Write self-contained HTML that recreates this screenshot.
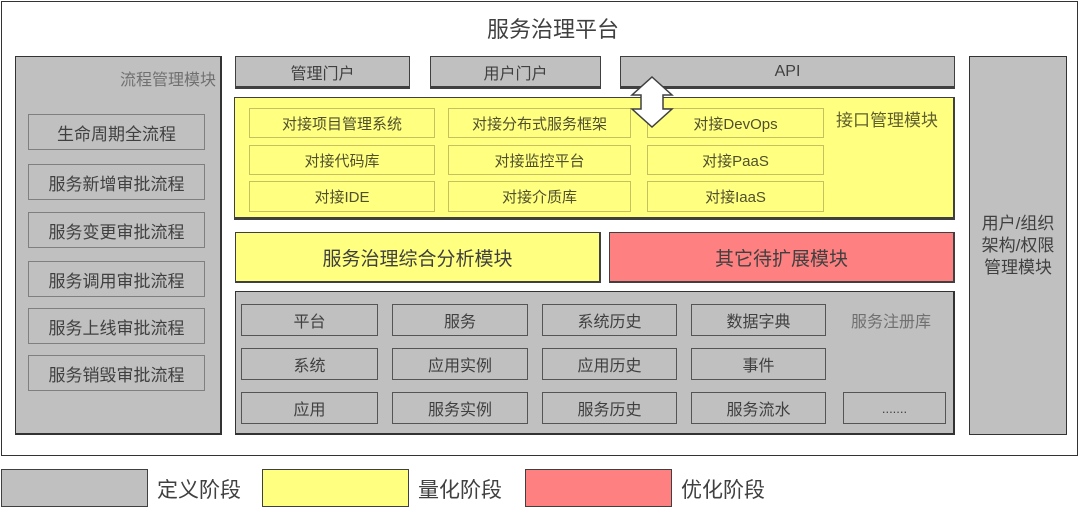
<!DOCTYPE html>
<html><head><meta charset="utf-8"><style>
body{margin:0;width:1080px;height:516px;background:#fff;position:relative;overflow:hidden;font-family:"Liberation Sans","Noto Sans CJK SC",sans-serif;color:#404040}
div{position:absolute;box-sizing:border-box}
.b{display:flex;align-items:center;justify-content:center;white-space:nowrap}
.g{background:#c0c0c0;border:1.5px solid #404040}
.gi{background:#c0c0c0;border:1.5px solid #7f7f7f;font-size:17px}
.y{background:#ffff80;border:2px solid #404040}
.yi{background:#ffff80;border:1px solid #c8c060;font-size:15px;color:#505030}
.ri{border:1.5px solid #555;background:#c0c0c0;font-size:16px}
</style></head><body>
<div style="left:1px;top:1px;width:1077px;height:455px;border:1.5px solid #333"></div>
<div class="b" style="left:0;top:10px;width:1106px;height:36px;font-size:22px">服务治理平台</div>

<div class="g" style="left:15px;top:56px;width:207px;height:379px;border-color:#333;border-width:1.5px 2px 2px 1px"></div>
<div style="left:100px;top:66px;width:116px;font-size:16px;color:#707070;text-align:right">流程管理模块</div>
<div class="gi b" style="left:28px;top:114px;width:177px;height:36px">生命周期全流程</div>
<div class="gi b" style="left:28px;top:164px;width:177px;height:36px">服务新增审批流程</div>
<div class="gi b" style="left:28px;top:212px;width:177px;height:36px">服务变更审批流程</div>
<div class="gi b" style="left:28px;top:261px;width:177px;height:36px">服务调用审批流程</div>
<div class="gi b" style="left:28px;top:308px;width:177px;height:36px">服务上线审批流程</div>
<div class="gi b" style="left:28px;top:355px;width:177px;height:36px">服务销毁审批流程</div>

<div class="g b" style="left:235px;top:56px;width:175px;height:33px;font-size:16px;border-width:1px 1.5px 3px 1px">管理门户</div>
<div class="g b" style="left:430px;top:56px;width:171px;height:33px;font-size:16px;border-width:1px 1.5px 3px 1px">用户门户</div>
<div class="g b" style="left:620px;top:56px;width:335px;height:33px;font-size:16px;border-width:1px 1.5px 3px 1px">API</div>

<div class="y" style="left:234px;top:97px;width:721px;height:123px;border-width:1.5px 2.5px 3px 1.5px"></div>
<div class="yi b" style="left:249px;top:108px;width:186px;height:30px">对接项目管理系统</div>
<div class="yi b" style="left:448px;top:108px;width:183px;height:30px">对接分布式服务框架</div>
<div class="yi b" style="left:647px;top:108px;width:177px;height:30px">对接DevOps</div>
<div class="yi b" style="left:249px;top:145px;width:186px;height:30px">对接代码库</div>
<div class="yi b" style="left:448px;top:145px;width:183px;height:30px">对接监控平台</div>
<div class="yi b" style="left:647px;top:145px;width:177px;height:30px">对接PaaS</div>
<div class="yi b" style="left:249px;top:181px;width:186px;height:31px">对接IDE</div>
<div class="yi b" style="left:448px;top:181px;width:183px;height:31px">对接介质库</div>
<div class="yi b" style="left:647px;top:181px;width:177px;height:31px">对接IaaS</div>
<div style="left:836px;top:106px;font-size:17px;color:#606030">接口管理模块</div>
<svg style="position:absolute;left:628px;top:76px" width="48" height="52"><polygon points="24,1 44,19 35,19 35,33 44,33 24,51 4,33 13,33 13,19 4,19" fill="#fff" stroke="#404040" stroke-width="1.5"/></svg>

<div class="y b" style="left:235px;top:232px;width:366px;height:51px;font-size:19px;border-width:1.5px 2px 2.5px 1.5px">服务治理综合分析模块</div>
<div class="b" style="left:609px;top:232px;width:346px;height:51px;font-size:19px;background:#ff8080;border:1.5px solid #404040;border-width:1.5px 2px 2.5px 1.5px">其它待扩展模块</div>

<div class="g" style="left:235px;top:291px;width:720px;height:144px;border-color:#333;border-width:1.5px 2px 2px 1.5px"></div>
<div style="left:851px;top:308px;font-size:16px;color:#707070">服务注册库</div>
<div class="ri b" style="left:241px;top:304px;width:137px;height:32px">平台</div>
<div class="ri b" style="left:392px;top:304px;width:136px;height:32px">服务</div>
<div class="ri b" style="left:542px;top:304px;width:135px;height:32px">系统历史</div>
<div class="ri b" style="left:691px;top:304px;width:135px;height:32px">数据字典</div>
<div class="ri b" style="left:241px;top:348px;width:137px;height:32px">系统</div>
<div class="ri b" style="left:392px;top:348px;width:136px;height:32px">应用实例</div>
<div class="ri b" style="left:542px;top:348px;width:135px;height:32px">应用历史</div>
<div class="ri b" style="left:691px;top:348px;width:135px;height:32px">事件</div>
<div class="ri b" style="left:241px;top:392px;width:137px;height:32px">应用</div>
<div class="ri b" style="left:392px;top:392px;width:136px;height:32px">服务实例</div>
<div class="ri b" style="left:542px;top:392px;width:135px;height:32px">服务历史</div>
<div class="ri b" style="left:691px;top:392px;width:135px;height:32px">服务流水</div>
<div class="ri b" style="left:843px;top:392px;width:103px;height:32px;font-size:13px">.......</div>

<div class="g b" style="left:969px;top:56px;width:98px;height:379px;border-color:#333;font-size:17px;line-height:22px;white-space:normal;text-align:center;padding:0 6px">用户/组织架构/权限管理模块</div>

<div style="left:1px;top:469px;width:147px;height:38px;background:#c0c0c0;border:1.5px solid #404040"></div>
<div style="left:157px;top:474px;font-size:21px">定义阶段</div>
<div style="left:262px;top:469px;width:147px;height:38px;background:#ffff80;border:1.5px solid #404040"></div>
<div style="left:418px;top:474px;font-size:21px">量化阶段</div>
<div style="left:525px;top:469px;width:147px;height:38px;background:#ff8080;border:1.5px solid #404040"></div>
<div style="left:681px;top:474px;font-size:21px">优化阶段</div>
</body></html>
